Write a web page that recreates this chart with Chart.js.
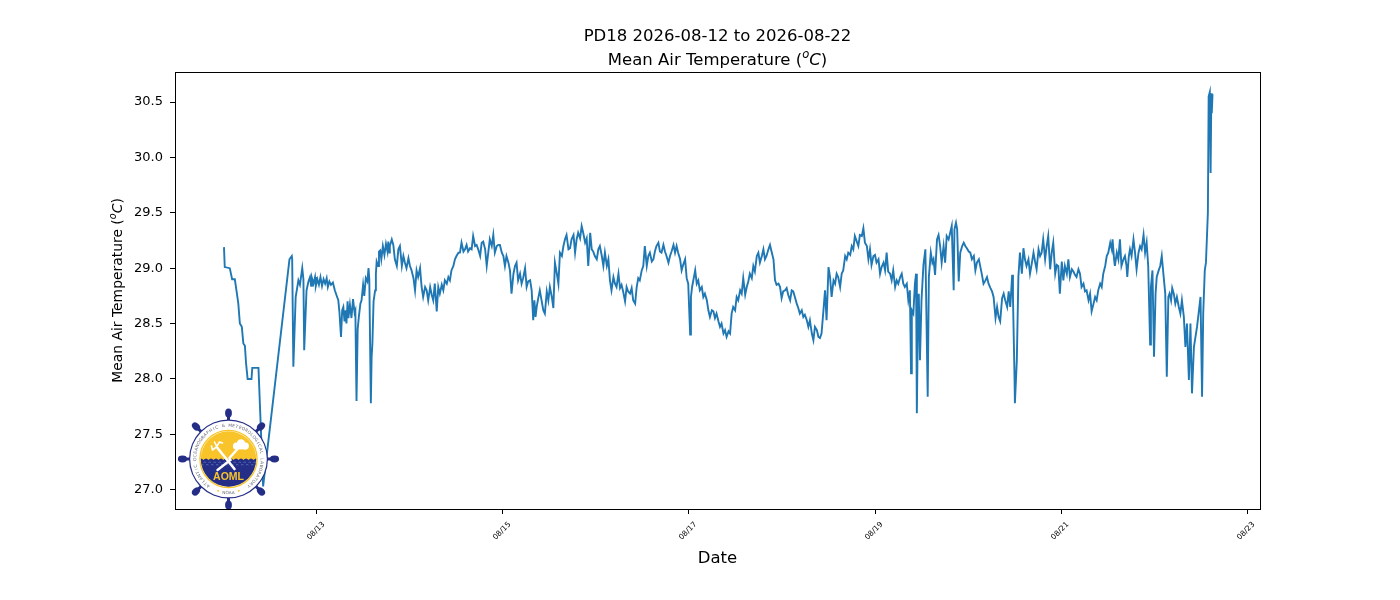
<!DOCTYPE html>
<html>
<head>
<meta charset="utf-8">
<script src="https://cdn.jsdelivr.net/npm/chart.js@4.4.1/dist/chart.umd.min.js"></script>
<style>
html,body{margin:0;padding:0;background:#fff;}
#wrap{width:1400px;height:600px;}
</style>
</head>
<body>
<div id="wrap"><canvas id="c" width="1400" height="600"></canvas></div>
<script>
// ---- data (hours since 2026-08-12 00:00, mean air temperature in degC) ----
const titleLine1 = 'PD18 2026-08-12 to 2026-08-22';
const hours = [
0.0,0.2,1.5,2.1,2.8,3.3,3.7,4.1,4.6,5.0,5.4,5.7,6.1,7.1,7.3,8.9,10.1,16.9,17.5,17.6,17.9,18.5,19.2,19.6,20.2,20.5,20.7,21.3,21.8,
22.2,22.5,22.7,23.1,23.5,23.7,24.1,24.5,24.9,25.3,25.7,26.1,26.5,26.8,27.2,27.6,28.1,28.6,29.2,29.5,29.8,30.2,30.5,30.8,31.1,31.4,31.6,31.9,32.1,32.5,32.9,33.3,33.7,33.9,
34.2,34.5,34.8,35.2,35.5,35.9,36.2,36.6,37.0,37.3,37.5,37.9,38.1,38.3,38.6,39.0,39.2,39.4,39.8,40.0,40.3,40.6,41.0,41.4,41.8,42.2,42.4,42.7,42.8,
43.3,43.7,44.1,44.6,45.0,45.4,45.9,46.3,46.7,47.1,47.6,48.0,48.4,48.9,49.3,49.7,50.1,50.6,51.0,51.4,51.9,52.3,52.7,53.2,53.6,54.0,54.4,54.9,55.3,55.7,
56.2,56.6,57.0,57.5,57.9,58.3,58.7,59.2,59.6,60.0,60.5,60.9,61.3,61.8,62.2,62.6,63.0,63.5,63.9,64.3,64.8,65.2,65.6,66.1,66.5,66.9,67.4,67.8,68.2,68.6,
69.1,69.5,69.9,70.4,70.8,71.2,71.7,72.1,72.5,72.9,73.4,73.8,74.2,74.7,75.1,75.5,75.9,76.4,76.8,77.2,77.7,78.1,78.5,79.0,79.4,79.8,80.1,80.4,80.7,81.1,
81.5,82.0,82.4,82.8,83.3,83.7,84.1,84.6,85.0,85.4,85.9,86.3,86.7,87.2,87.6,88.0,88.4,88.9,89.3,89.7,90.2,90.6,91.0,91.4,91.9,92.3,92.7,93.2,93.6,94.0,
94.5,94.9,95.3,95.7,96.2,96.6,97.0,97.5,97.9,98.3,98.8,99.2,99.6,100.0,100.5,100.9,101.3,101.8,102.2,102.6,103.0,103.5,103.9,104.3,104.8,105.2,105.6,106.1,
106.5,106.9,107.3,107.8,108.2,108.6,109.1,109.5,109.9,110.4,110.8,111.2,111.6,112.1,112.5,112.9,113.4,113.8,114.2,114.7,115.1,115.5,116.0,116.4,116.8,
117.2,117.7,118.1,118.5,119.0,119.4,119.8,120.3,120.5,120.8,121.6,122.0,122.4,122.8,123.3,123.7,124.1,124.6,125.0,125.4,125.9,126.3,126.7,127.1,127.6,
128.0,128.4,128.9,129.3,129.7,130.2,130.6,131.0,131.4,131.9,132.3,132.7,133.2,133.6,134.0,134.5,134.9,135.3,135.7,136.2,136.6,137.0,137.5,137.9,138.3,
138.8,139.2,139.6,140.0,140.5,140.9,141.3,141.8,142.2,142.6,143.1,143.5,143.9,144.3,144.8,145.2,145.6,146.1,146.5,146.9,147.4,147.8,148.2,148.6,149.1,
149.5,149.9,150.4,150.8,151.2,151.7,152.1,152.5,153.0,153.4,153.8,154.2,154.7,155.1,155.5,156.0,156.4,156.8,157.3,157.7,158.1,158.5,159.0,159.4,159.8,
160.3,160.7,161.1,161.6,162.0,162.4,162.8,163.3,163.7,164.1,164.6,165.0,165.4,165.9,166.3,166.7,167.1,167.6,168.0,168.4,168.9,169.3,169.7,170.2,170.6,
171.0,171.4,171.9,172.3,172.7,173.2,173.6,174.0,174.5,174.9,175.3,175.7,176.2,176.6,177.0,177.3,177.5,177.9,178.3,178.6,178.8,179.0,179.3,179.6,180.0,
180.5,181.0,181.6,181.9,182.4,182.8,183.1,183.5,184.0,184.4,184.8,185.2,185.7,186.1,186.5,187.0,187.4,187.8,188.3,188.5,188.9,189.2,189.6,190.0,190.5,
190.9,191.3,191.7,192.2,192.6,193.0,193.5,193.9,194.3,194.8,195.2,195.6,196.0,196.5,196.9,197.3,197.8,198.2,198.6,199.1,199.5,199.9,200.3,200.8,201.2,
201.6,202.1,202.5,202.9,203.4,203.6,204.0,204.1,204.6,205.0,205.4,205.9,206.3,206.7,207.1,207.6,208.0,208.4,208.9,209.3,209.7,210.2,210.6,211.0,211.4,
211.9,212.3,212.7,213.2,213.6,214.0,214.5,214.9,215.3,215.7,216.2,216.6,217.0,217.5,217.9,218.3,218.8,219.2,219.6,220.0,220.5,220.9,221.3,221.8,222.2,
222.6,223.1,223.5,223.9,224.4,224.8,225.2,225.6,226.1,226.5,226.9,227.4,227.8,228.2,228.7,229.1,229.3,229.7,229.9,230.4,230.8,231.2,231.6,232.1,232.5,
232.9,233.1,233.5,233.8,234.2,234.7,235.1,235.5,236.0,236.4,236.8,237.3,237.7,238.1,238.5,239.0,239.2,239.6,240.0,240.4,240.7,241.2,241.6,242.0,242.5,
242.9,243.3,243.7,244.0,244.4,244.7,245.1,245.5,245.9,246.4,246.8,247.2,247.7,248.1,248.5,249.0,249.4,249.8,250.3,250.7,251.1,251.5,252.0,252.4,252.7,
253.1,253.4,253.9,254.1,254.4,254.6,254.8,254.9,255.1
];
const temps = [
29.19,29.01,29.00,28.90,28.90,28.78,28.68,28.50,28.47,28.32,28.30,28.14,28.00,28.00,28.10,28.10,27.03,29.08,29.11,29.08,28.11,28.74,28.89,28.85,29.00,28.90,28.26,28.80,28.88,
28.92,28.84,28.91,28.86,28.92,28.84,28.90,28.85,28.92,28.84,28.90,28.86,28.91,28.83,28.88,28.85,28.87,28.80,28.74,28.71,28.60,28.38,28.62,28.65,28.52,28.62,28.50,28.70,28.55,28.67,28.55,28.72,28.60,28.62,
27.80,28.45,28.56,28.68,28.71,28.85,28.75,28.91,28.88,29.00,28.90,27.78,28.20,28.32,28.70,28.80,28.95,29.06,29.02,29.15,29.16,29.08,29.20,29.12,29.22,29.15,29.24,29.14,29.20,
29.26,29.21,29.08,29.02,29.17,29.20,29.02,29.11,29.05,29.00,29.09,29.02,28.98,28.91,28.80,28.98,28.92,29.00,28.83,28.74,28.83,28.80,28.71,28.83,28.76,28.71,28.86,28.61,28.83,28.77,
28.85,28.80,28.89,28.86,28.92,28.89,28.98,29.02,29.08,29.11,29.14,29.14,29.23,29.15,29.17,29.21,29.15,29.18,29.17,29.29,29.20,29.21,29.17,29.11,29.23,29.24,29.17,29.02,29.14,29.26,
29.20,29.30,29.14,29.20,29.21,29.21,29.14,29.11,29.02,29.11,29.05,28.98,28.77,28.95,29.02,29.05,28.89,28.95,28.86,28.91,29.00,28.83,28.88,28.89,28.80,28.53,28.71,28.56,28.65,28.73,
28.80,28.70,28.62,28.59,28.79,28.71,28.83,28.74,28.64,29.05,28.95,28.86,29.14,29.11,29.20,29.26,29.30,29.17,29.18,29.26,29.30,29.14,29.26,29.32,29.27,29.38,29.32,29.23,29.27,29.02,
29.32,29.17,29.15,29.11,29.08,29.17,29.20,29.11,29.02,29.14,29.02,29.08,28.89,28.80,28.92,28.86,28.83,28.95,28.82,28.85,28.79,28.70,28.83,28.79,28.77,28.82,28.71,28.68,
28.83,28.91,28.89,28.98,29.02,29.20,29.02,29.11,29.14,29.06,29.08,29.15,29.20,29.23,29.15,29.14,29.21,29.15,29.11,29.05,29.11,29.15,29.21,29.14,29.20,
29.14,29.08,28.98,29.03,29.08,28.91,28.86,28.40,28.74,28.83,28.98,28.86,28.89,28.80,28.83,28.74,28.77,28.71,28.62,28.56,28.62,28.61,28.55,28.59,28.52,
28.47,28.50,28.41,28.44,28.38,28.43,28.41,28.59,28.65,28.62,28.74,28.71,28.80,28.77,28.91,28.76,28.83,28.88,28.95,28.91,29.02,28.97,29.11,29.14,29.05,
29.11,29.17,29.08,29.11,29.17,29.21,29.15,29.08,28.89,28.85,28.86,28.83,28.73,28.79,28.80,28.82,28.76,28.71,28.80,28.79,28.73,28.68,28.64,28.59,28.62,
28.56,28.58,28.53,28.47,28.53,28.41,28.35,28.47,28.44,28.38,28.37,28.41,28.62,28.80,28.53,29.01,28.92,28.74,28.89,28.86,28.95,28.92,28.83,28.95,28.98,
29.11,29.08,29.14,29.12,29.20,29.17,29.29,29.24,29.20,29.30,29.29,29.36,29.23,29.20,29.08,29.17,29.03,29.11,29.12,29.05,29.08,28.95,29.01,29.05,28.98,
29.14,28.97,28.95,28.89,28.98,28.83,28.89,28.86,28.92,28.95,28.86,28.83,28.86,28.71,28.80,28.05,28.62,28.59,28.86,28.95,27.69,28.32,28.77,28.17,28.71,
29.03,29.17,27.84,28.92,29.14,29.05,29.08,28.94,29.26,29.30,29.20,29.05,29.20,29.05,29.29,29.26,29.32,29.38,28.80,29.35,29.41,29.35,28.88,29.14,29.20,
29.23,29.20,29.18,29.15,29.14,29.08,29.11,28.98,29.05,29.08,29.01,28.94,28.86,28.89,28.92,28.86,28.82,28.79,28.74,28.55,28.65,28.56,28.52,28.73,28.77,
28.71,28.65,28.79,28.65,28.94,28.74,28.02,27.78,28.17,28.92,29.14,28.95,29.18,29.08,29.02,29.08,28.95,29.03,29.14,29.06,28.99,29.17,29.11,29.14,29.26,
29.08,29.20,29.29,28.99,29.14,29.23,28.95,29.03,29.02,28.77,29.06,28.89,29.02,28.95,29.08,28.92,28.99,28.97,28.94,28.92,28.99,28.95,28.83,28.86,28.79,
28.80,28.71,28.77,28.61,28.68,28.74,28.71,28.80,28.86,28.83,28.95,29.02,29.11,29.14,29.23,29.17,29.26,29.08,29.02,29.14,29.08,29.26,29.02,29.08,29.11,
29.02,28.92,29.11,29.17,29.11,29.26,29.14,28.99,29.14,29.20,29.17,29.30,29.14,29.23,29.02,28.31,28.83,28.98,28.20,28.77,28.92,28.98,29.02,29.11,28.92,
28.77,28.02,28.74,28.77,28.71,28.82,28.77,28.68,28.74,28.65,28.59,28.71,28.56,28.29,28.50,27.99,28.50,27.87,28.29,28.38,28.47,28.59,28.74,27.84,28.59,
28.98,29.05,29.50,30.55,30.59,29.86,30.58,30.40,30.57
];
const xTickHours = [24, 72, 120, 168, 216, 264];
const xTickLabels = ['08/13', '08/15', '08/17', '08/19', '08/21', '08/23'];
const yTickValues = [27.0, 27.5, 28.0, 28.5, 29.0, 29.5, 30.0, 30.5];
const xLabel = 'Date';
const yLabelParts = ['Mean Air Temperature (', 'o', 'C', ')'];

// ---- rendering ----
const FONT = "'DejaVu Sans'";
Chart.defaults.font.family = FONT;

function drawMixed(ctx, parts, x, y) {
  let w = 0;
  parts.forEach(p => { ctx.font = p.font; p.w = ctx.measureText(p.t).width; w += p.w; });
  let cx = x - w / 2;
  ctx.textAlign = 'left';
  ctx.textBaseline = 'alphabetic';
  parts.forEach(p => { ctx.font = p.font; ctx.fillText(p.t, cx, y + (p.dy || 0)); cx += p.w; });
}
function labelParts(size) {
  return [
    {t: yLabelParts[0], font: size + 'px ' + FONT},
    {t: yLabelParts[1], font: 'italic ' + (size * 0.7).toFixed(1) + 'px ' + FONT, dy: -size * 0.42},
    {t: yLabelParts[2], font: 'italic ' + size + 'px ' + FONT},
    {t: yLabelParts[3], font: size + 'px ' + FONT}
  ];
}

function drawLogo(ctx, cx, cy) {
  const navy = '#252e86', gold = '#f8c42a';
  const circ = r => { ctx.beginPath(); ctx.arc(cx, cy, r, 0, Math.PI * 2); };
  ctx.save();
  // wheel spokes and handles
  for (let k = 0; k < 8; k++) {
    ctx.save();
    ctx.translate(cx, cy);
    ctx.rotate(k * Math.PI / 4);
    ctx.strokeStyle = navy; ctx.lineWidth = 3;
    ctx.beginPath(); ctx.moveTo(30, 0); ctx.lineTo(43, 0); ctx.stroke();
    ctx.fillStyle = navy;
    ctx.beginPath(); ctx.ellipse(46, 0, 4.6, 3.4, 0, 0, Math.PI * 2); ctx.fill();
    ctx.restore();
  }
  // outer ring
  ctx.fillStyle = navy; circ(39.5); ctx.fill();
  ctx.fillStyle = '#ffffff'; circ(38.3); ctx.fill();
  // ring text
  const ringText = 'ATLANTIC OCEANOGRAPHIC & METEOROLOGICAL LABORATORY';
  ctx.fillStyle = '#6a6a78';
  ctx.font = '4.3px ' + FONT;
  ctx.textAlign = 'center'; ctx.textBaseline = 'middle';
  const a0 = 124 * Math.PI / 180, a1 = 416 * Math.PI / 180;
  for (let i = 0; i < ringText.length; i++) {
    const a = a0 + (a1 - a0) * (i + 0.5) / ringText.length;
    ctx.save();
    ctx.translate(cx + 33.4 * Math.cos(a), cy + 33.4 * Math.sin(a));
    ctx.rotate(a + Math.PI / 2);
    ctx.fillText(ringText[i], 0, 0);
    ctx.restore();
  }
  ctx.fillText('NOAA', cx, cy + 33.6);
  ctx.fillStyle = gold;
  [108, 72].forEach(d => { const a = d * Math.PI / 180; ctx.beginPath(); ctx.arc(cx + 33.4 * Math.cos(a), cy + 33.4 * Math.sin(a), 0.9, 0, Math.PI * 2); ctx.fill(); });
  // inner gold ring
  ctx.strokeStyle = gold; ctx.lineWidth = 1.3; circ(28.6); ctx.stroke();
  // inner disk
  ctx.save();
  circ(27.7); ctx.clip();
  ctx.fillStyle = gold; ctx.fillRect(cx - 30, cy - 30, 60, 60);
  ctx.fillStyle = navy;
  ctx.beginPath();
  ctx.moveTo(cx - 30, cy + 1);
  for (let i = 0; i < 12; i++) {
    const x0 = cx - 30 + i * 5;
    ctx.quadraticCurveTo(x0 + 2.5, cy - 2, x0 + 5, cy + 1);
  }
  ctx.lineTo(cx + 30, cy + 30); ctx.lineTo(cx - 30, cy + 30); ctx.closePath(); ctx.fill();
  ctx.strokeStyle = '#6f8fd8'; ctx.lineWidth = 0.6;
  for (let j = 0; j < 2; j++) {
    ctx.beginPath();
    for (let i = 0; i < 12; i++) {
      const x0 = cx - 30 + i * 5 + j * 2.5;
      ctx.moveTo(x0, cy + 3.5 + j * 2.5); ctx.quadraticCurveTo(x0 + 1.2, cy + 2.5 + j * 2.5, x0 + 2.5, cy + 3.5 + j * 2.5);
    }
    ctx.stroke();
  }
  // white emblem: trident and lightning crossing, with cloud
  ctx.strokeStyle = '#ffffff'; ctx.fillStyle = '#ffffff';
  ctx.lineCap = 'round';
  ctx.lineWidth = 2.6;
  ctx.beginPath(); ctx.moveTo(cx - 11, cy - 11); ctx.lineTo(cx + 6, cy + 10); ctx.stroke();
  ctx.lineWidth = 1.6;
  ctx.beginPath();
  ctx.moveTo(cx - 16, cy - 9); ctx.lineTo(cx - 12, cy - 12); ctx.lineTo(cx - 9, cy - 17);
  ctx.moveTo(cx - 11, cy - 11); ctx.lineTo(cx - 14, cy - 17);
  ctx.moveTo(cx - 16, cy - 9); ctx.lineTo(cx - 17, cy - 13);
  ctx.moveTo(cx - 9, cy - 17); ctx.lineTo(cx - 6, cy - 16);
  ctx.stroke();
  ctx.lineWidth = 2.4;
  ctx.beginPath(); ctx.moveTo(cx + 9, cy - 10); ctx.lineTo(cx + 1, cy - 1); ctx.lineTo(cx + 2, cy + 1); ctx.lineTo(cx - 11, cy + 11); ctx.stroke();
  ctx.beginPath();
  ctx.arc(cx + 8, cy - 13, 3.6, 0, Math.PI * 2);
  ctx.arc(cx + 12.5, cy - 15.5, 4.2, 0, Math.PI * 2);
  ctx.arc(cx + 17, cy - 13, 3.4, 0, Math.PI * 2);
  ctx.fill();
  ctx.fillRect(cx + 7, cy - 13, 11, 3.4);
  ctx.restore();
  // AOML text
  ctx.fillStyle = gold;
  ctx.font = 'bold 10.5px "Liberation Sans"';
  ctx.textAlign = 'center'; ctx.textBaseline = 'middle';
  ctx.fillText('AOML', cx, cy + 18);
  ctx.restore();
}

const decorPlugin = {
  id: 'decor',
  afterDatasetsDraw(chart) {
    drawLogo(chart.ctx, 228.5, 459);
  },
  afterDraw(chart) {
    const ctx = chart.ctx, a = chart.chartArea, xs = chart.scales.x;
    ctx.save();
    // frame
    ctx.strokeStyle = '#000'; ctx.lineWidth = 1;
    ctx.strokeRect(Math.round(a.left) + 0.5, Math.round(a.top) + 0.5, Math.round(a.right - a.left), Math.round(a.bottom - a.top));
    ctx.fillStyle = '#000';
    // titles
    ctx.font = '16.5px ' + FONT;
    ctx.textAlign = 'center'; ctx.textBaseline = 'alphabetic';
    const midX = (a.left + a.right) / 2;
    ctx.fillText(titleLine1, midX, 41);
    drawMixed(ctx, labelParts(16.5), midX, 64.5);
    // x axis label
    ctx.font = '16.5px ' + FONT;
    ctx.textAlign = 'center';
    ctx.fillText(xLabel, midX, 563);
    // y axis label
    ctx.save();
    ctx.translate(122, (a.top + a.bottom) / 2);
    ctx.rotate(-Math.PI / 2);
    drawMixed(ctx, labelParts(13.9), 0, 0);
    ctx.restore();
    // rotated x tick labels
    ctx.font = '7.5px ' + FONT;
    ctx.textAlign = 'center'; ctx.textBaseline = 'middle';
    xTickHours.forEach((h, i) => {
      const px = xs.getPixelForValue(h);
      ctx.save();
      ctx.translate(px - 1, 531);
      ctx.rotate(-Math.PI / 4);
      ctx.fillText(xTickLabels[i], 0, 0);
      ctx.restore();
    });
    ctx.restore();
  }
};

new Chart(document.getElementById('c'), {
  type: 'line',
  data: {
    datasets: [{
      data: hours.map((h, i) => ({x: h, y: temps[i]})),
      borderColor: '#1f77b4',
      borderWidth: 1.9,
      pointRadius: 0,
      fill: false,
      tension: 0
    }]
  },
  options: {
    responsive: false,
    animation: false,
    devicePixelRatio: 1,
    parsing: false,
    normalized: true,
    layout: {padding: {top: 72, right: 140, left: 0, bottom: 0}},
    plugins: {legend: {display: false}, tooltip: {enabled: false}, title: {display: false}},
    scales: {
      x: {
        type: 'linear',
        min: -12.64,
        max: 267.35,
        afterBuildTicks: s => { s.ticks = xTickHours.map(v => ({value: v})); },
        ticks: {display: false},
        grid: {drawOnChartArea: false, drawTicks: true, tickLength: 5, color: '#000', tickWidth: 1},
        border: {display: false},
        afterFit: s => { s.height = 91; }
      },
      y: {
        type: 'linear',
        min: 26.826,
        max: 30.771,
        afterBuildTicks: s => { s.ticks = yTickValues.map(v => ({value: v})); },
        ticks: {callback: v => Number(v).toFixed(1), font: {family: FONT, size: 13}, color: '#000', padding: 7, autoSkip: false},
        grid: {drawOnChartArea: false, drawTicks: true, tickLength: 5, color: '#000', tickWidth: 1},
        border: {display: false},
        afterFit: s => { s.width = 175; }
      }
    }
  },
  plugins: [decorPlugin]
});
</script>
</body>
</html>
